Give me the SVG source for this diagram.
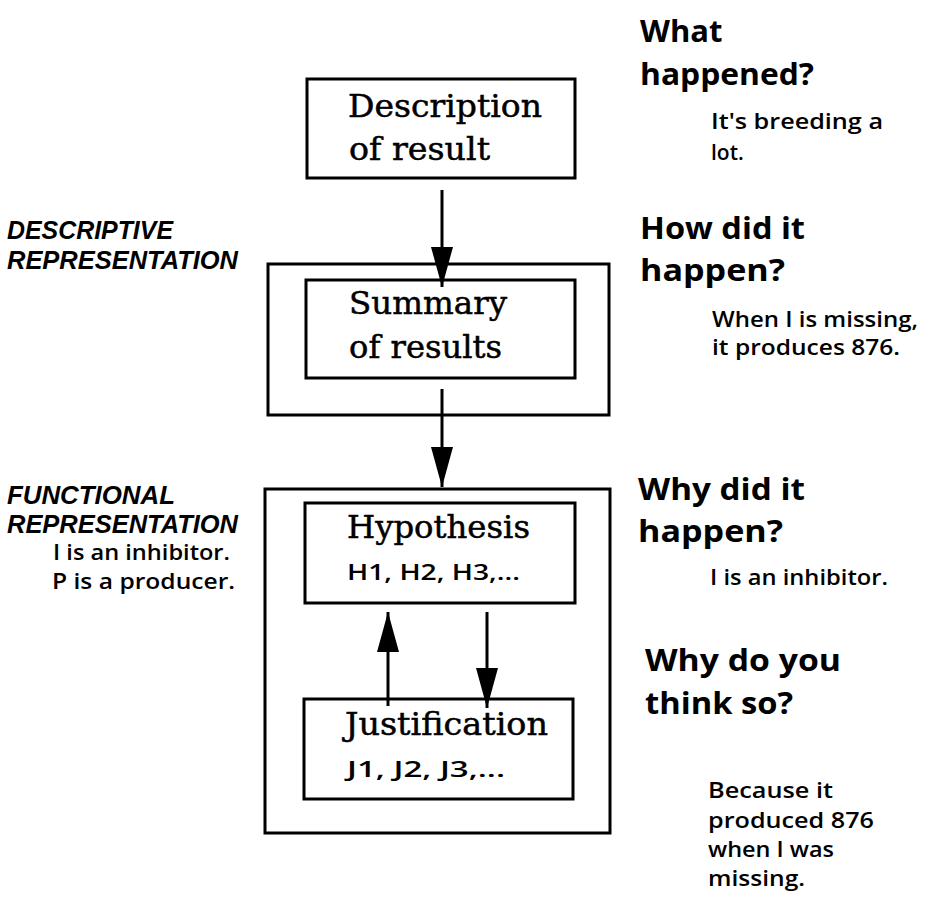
<svg xmlns="http://www.w3.org/2000/svg" width="926" height="905" viewBox="0 0 926 905">
<style>
.box{fill:#fff;stroke:#000;stroke-width:3}
.ser{font-family:"DejaVu Serif","Liberation Serif",serif;font-size:32px;fill:#000;stroke:#000;stroke-width:0.5}
.sub{font-family:"Open Sans","Liberation Sans",sans-serif;font-size:22px;font-weight:600;fill:#000}
.q{font-family:"Open Sans","Liberation Sans",sans-serif;font-size:31px;font-weight:700;fill:#000}
.a{font-family:"Open Sans","Liberation Sans",sans-serif;font-size:21px;font-weight:600;fill:#000}
.lab{font-family:"Liberation Sans",Arial,sans-serif;font-size:25px;font-weight:700;font-style:italic;fill:#000}
.con{stroke:#000;stroke-width:3;fill:none;marker-end:url(#ah)}
</style>
<defs>
<marker id="ah" markerUnits="userSpaceOnUse" viewBox="0 0 40 22" refX="40" refY="11" markerWidth="40" markerHeight="22" orient="auto">
<path d="M0,0 L40,11 L0,22 Z" fill="#000"/>
</marker>
</defs>
<rect width="926" height="905" fill="#fff"/>

<g id="descriptive-rep">
<rect class="box" x="268" y="264" width="341" height="151"/>
</g>
<g id="functional-rep">
<rect class="box" x="265" y="489" width="345" height="344"/>
</g>

<g id="description">
<rect class="box" x="307" y="79" width="268" height="99"/>
<text class="ser" x="348" y="117" textLength="194" lengthAdjust="spacingAndGlyphs">Description</text>
<text class="ser" x="349" y="160" textLength="141" lengthAdjust="spacingAndGlyphs">of result</text>
</g>

<g id="summary">
<rect class="box" x="306" y="280" width="269" height="98"/>
<text class="ser" x="349" y="314" textLength="158" lengthAdjust="spacingAndGlyphs">Summary</text>
<text class="ser" x="349" y="358" textLength="153" lengthAdjust="spacingAndGlyphs">of results</text>
</g>

<g id="hypothesis">
<rect class="box" x="305" y="503" width="270" height="100"/>
<text class="ser" x="347" y="538" textLength="183" lengthAdjust="spacingAndGlyphs">Hypothesis</text>
<text class="sub" x="347" y="580" textLength="173" lengthAdjust="spacingAndGlyphs">H1, H2, H3,...</text>
</g>

<g id="justification">
<rect class="box" x="304" y="699" width="269" height="100"/>
<text class="ser" x="345" y="735" textLength="203" lengthAdjust="spacingAndGlyphs">Justification</text>
<text class="sub" x="347" y="777" textLength="158" lengthAdjust="spacingAndGlyphs">J1, J2, J3,...</text>
</g>

<g id="connectors">
<line class="con" x1="442" y1="190" x2="442" y2="287"/>
<line class="con" x1="442" y1="389" x2="442" y2="487"/>
<line class="con" x1="388" y1="706" x2="388" y2="612"/>
<line class="con" x1="487" y1="612" x2="487" y2="708"/>
</g>

<g id="left-labels">
<text class="lab" x="7" y="239" textLength="166" lengthAdjust="spacingAndGlyphs">DESCRIPTIVE</text>
<text class="lab" x="7" y="269" textLength="231" lengthAdjust="spacingAndGlyphs">REPRESENTATION</text>
<text class="lab" x="7" y="504" textLength="168" lengthAdjust="spacingAndGlyphs">FUNCTIONAL</text>
<text class="lab" x="7" y="533" textLength="231" lengthAdjust="spacingAndGlyphs">REPRESENTATION</text>
<text class="a" x="53" y="560" textLength="177" lengthAdjust="spacingAndGlyphs">I is an inhibitor.</text>
<text class="a" x="52" y="589" textLength="183" lengthAdjust="spacingAndGlyphs">P is a producer.</text>
</g>

<g id="q-what">
<text class="q" x="640" y="42">What</text>
<text class="q" x="640" y="85" textLength="174" lengthAdjust="spacingAndGlyphs">happened?</text>
<text class="a" x="711" y="129" textLength="172" lengthAdjust="spacingAndGlyphs">It's breeding a</text>
<text class="a" x="711" y="160">lot.</text>
</g>

<g id="q-how">
<text class="q" x="640" y="239" textLength="165" lengthAdjust="spacingAndGlyphs">How did it</text>
<text class="q" x="640" y="281" textLength="145" lengthAdjust="spacingAndGlyphs">happen?</text>
<text class="a" x="712" y="327" textLength="206" lengthAdjust="spacingAndGlyphs">When I is missing,</text>
<text class="a" x="712" y="355" textLength="188" lengthAdjust="spacingAndGlyphs">it produces 876.</text>
</g>

<g id="q-why">
<text class="q" x="638" y="500" textLength="167" lengthAdjust="spacingAndGlyphs">Why did it</text>
<text class="q" x="638" y="542" textLength="145" lengthAdjust="spacingAndGlyphs">happen?</text>
<text class="a" x="710" y="585" textLength="178" lengthAdjust="spacingAndGlyphs">I is an inhibitor.</text>
</g>

<g id="q-think">
<text class="q" x="645" y="671" textLength="196" lengthAdjust="spacingAndGlyphs">Why do you</text>
<text class="q" x="645" y="714" textLength="148" lengthAdjust="spacingAndGlyphs">think so?</text>
<text class="a" x="708" y="798" textLength="125" lengthAdjust="spacingAndGlyphs">Because it</text>
<text class="a" x="708" y="828" textLength="166" lengthAdjust="spacingAndGlyphs">produced 876</text>
<text class="a" x="708" y="857" textLength="126" lengthAdjust="spacingAndGlyphs">when I was</text>
<text class="a" x="708" y="886" textLength="97" lengthAdjust="spacingAndGlyphs">missing.</text>
</g>
</svg>
